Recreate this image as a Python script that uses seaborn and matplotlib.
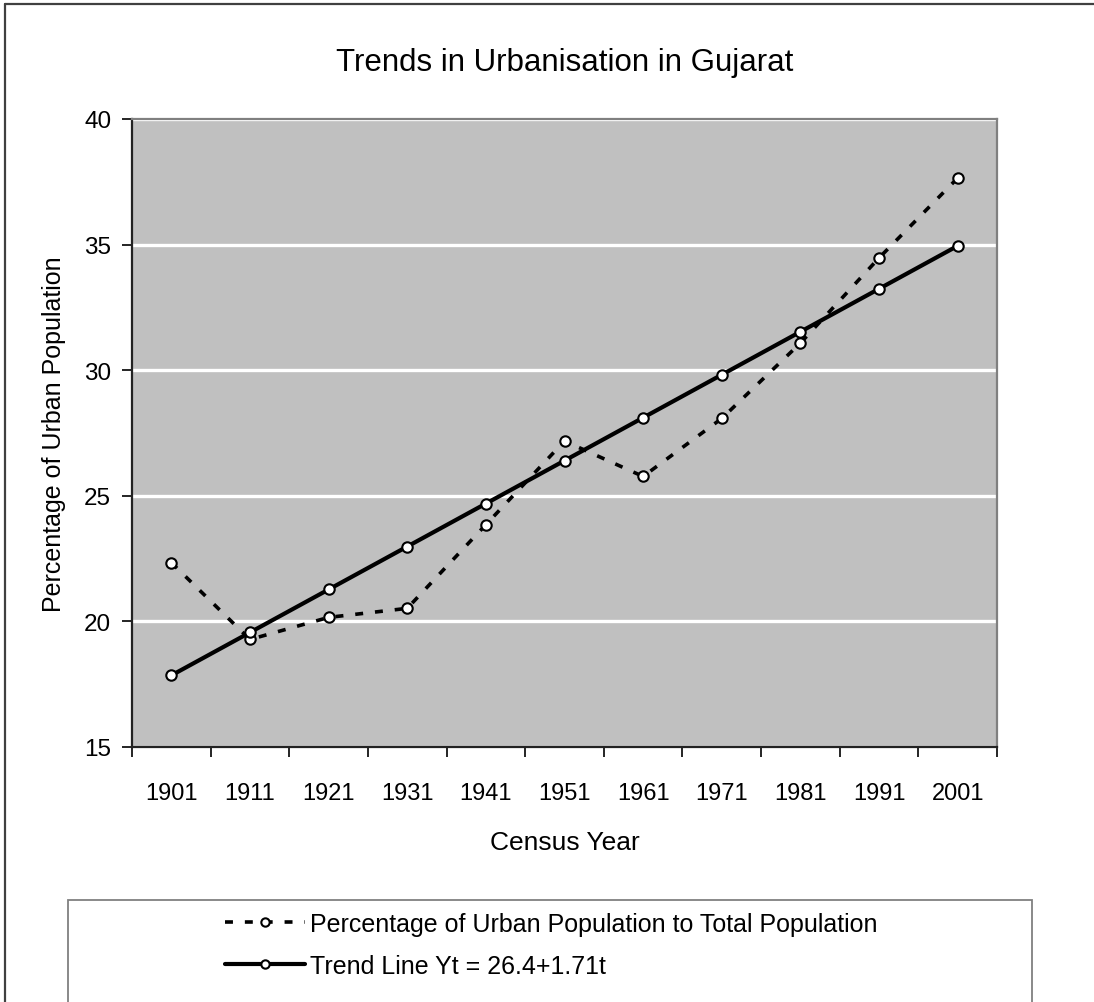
import matplotlib
matplotlib.use("Agg")
import matplotlib.pyplot as plt
from matplotlib.lines import Line2D
from matplotlib.patches import Rectangle
import seaborn as sns
import pandas as pd

# Census years and urban share (%) of Gujarat's population
years = ["1901", "1911", "1921", "1931", "1941", "1951", "1961", "1971", "1981", "1991", "2001"]
urban_pct = [22.34, 19.28, 20.16, 20.52, 23.85, 27.18, 25.77, 28.08, 31.08, 34.47, 37.65]
# Fitted linear trend, Yt = 26.4 + 1.71t (t = -5 ... 5)
trend_pct = [17.85, 19.56, 21.27, 22.98, 24.69, 26.40, 28.11, 29.82, 31.53, 33.24, 34.95]

label_actual = "Percentage of Urban Population to Total Population"
label_trend = "Trend Line Yt = 26.4+1.71t"

df = pd.DataFrame({"pos": range(len(years)), "year": years,
                   "actual": urban_pct, "trend": trend_pct})

sns.set_style("white")
plt.rcParams["font.family"] = ["Liberation Sans", "DejaVu Sans"]
plt.rcParams["text.color"] = "black"
plt.rcParams["axes.labelcolor"] = "black"
plt.rcParams["xtick.color"] = "black"
plt.rcParams["ytick.color"] = "black"

W, H = 1094, 1003
fig = plt.figure(figsize=(W / 100, H / 100), dpi=100)
ax = fig.add_axes([132 / W, 1 - 748 / H, (997 - 132) / W, (748 - 120) / H])
ax.set_facecolor("#C0C0C0")

marker_kw = dict(marker="o", markersize=7.5, markerfacecolor="white",
                 markeredgecolor="black", markeredgewidth=1.5)

sns.lineplot(data=df, x="pos", y="actual", ax=ax, color="black", lw=2.6,
             linestyle=(0, (2.2, 3.3)), zorder=3, legend=False, **marker_kw)
sns.lineplot(data=df, x="pos", y="trend", ax=ax, color="black", lw=3.0,
             linestyle="-", zorder=4, legend=False, **marker_kw)

# Axis ranges and ticks
ax.set_xlim(-0.5, len(years) - 0.5)
ax.set_ylim(15, 40)
ax.set_yticks([15, 20, 25, 30, 35, 40])
ax.set_yticklabels(["15", "20", "25", "30", "35", "40"], fontsize=17.5)
ax.set_xticks([i - 0.5 for i in range(len(years) + 1)])
ax.set_xticklabels([])
ax.set_xticks(list(range(len(years))), minor=True)
ax.set_xticklabels(years, minor=True, fontsize=17)
ax.tick_params(axis="x", which="major", direction="out", length=7, width=1.2,
               color="black", bottom=True)
ax.tick_params(axis="x", which="minor", length=0, pad=25)
ax.tick_params(axis="y", direction="out", length=7, width=1.2, color="black",
               left=True, pad=8)

ax.yaxis.grid(True, color="white", lw=2.4, zorder=1)
ax.xaxis.grid(False)
ax.set_axisbelow(True)

for side in ("left", "bottom"):
    ax.spines[side].set_color("#222222")
    ax.spines[side].set_linewidth(1.6)
for side in ("top", "right"):
    ax.spines[side].set_color("#808080")
    ax.spines[side].set_linewidth(1.6)
    ax.spines[side].set_visible(True)

ax.set_xlabel("")
ax.set_ylabel("Percentage of Urban Population", fontsize=18, labelpad=13)

fig.text(0.5 * (132 + 997) / W, 1 - 63 / H, "Trends in Urbanisation in Gujarat",
         ha="center", va="center", fontsize=22.5)
fig.text(0.5 * (132 + 997) / W, 1 - 843 / H, "Census Year",
         ha="center", va="center", fontsize=19)

# Outer chart border (left and top edges)
fig.add_artist(Line2D([5 / W, 5 / W], [-0.01, 1 - 5 / H], color="#404040", lw=1.6))
fig.add_artist(Line2D([5 / W, 1.01], [1 - 5 / H, 1 - 5 / H], color="#404040", lw=1.6))

# Legend box
fig.add_artist(Rectangle((68 / W, -0.05), (1032 - 68) / W, 1 - 901 / H + 0.05,
                         transform=fig.transFigure, facecolor="white",
                         edgecolor="#808080", lw=1.3, zorder=0))

handles = [
    Line2D([], [], color="black", lw=2.6, linestyle=(0, (2.2, 3.3)), **marker_kw),
    Line2D([], [], color="black", lw=3.0, linestyle="-", **marker_kw),
]
for h in handles:
    h.set_markersize(6)
leg = fig.legend(handles, [label_actual, label_trend], loc="center left",
                 bbox_to_anchor=(225 / W, 1 - 946 / H), frameon=False,
                 borderpad=0, borderaxespad=0,
                 fontsize=18, handlelength=3.2, handletextpad=0.2,
                 labelspacing=0.72, numpoints=1)

fig.savefig("out.png", dpi=100, facecolor="white")
